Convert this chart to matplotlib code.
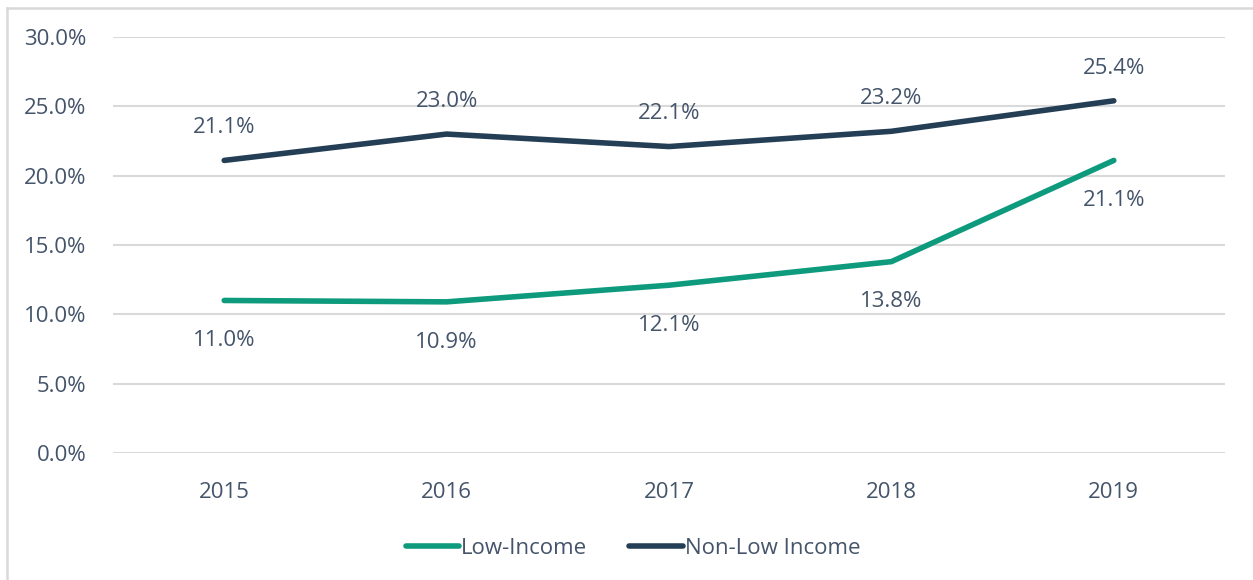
import matplotlib.pyplot as plt
from matplotlib.lines import Line2D

years = ["2015", "2016", "2017", "2018", "2019"]
low_income = [11.0, 10.9, 12.1, 13.8, 21.1]
non_low_income = [21.1, 23.0, 22.1, 23.2, 25.4]

teal = "#0E9A7D"
navy = "#243F55"
text_color = "#44546A"
grid_color = "#D9D9D9"

plt.rcParams["font.family"] = ["Open Sans", "DejaVu Sans"]

fig = plt.figure(figsize=(12.53, 5.80), dpi=100)
ax = fig.add_axes([113 / 1253, 1 - 453 / 580, 1112 / 1253, 416 / 580])

# outer chart border, only left and top edges are visible in the crop
fx, fy = 6.5 / 1253, 1 - 7.5 / 580
fig.lines.append(Line2D([fx, fx], [0, fy], transform=fig.transFigure,
                        color=grid_color, linewidth=1.8))
fig.lines.append(Line2D([fx, 1], [fy, fy], transform=fig.transFigure,
                        color=grid_color, linewidth=1.8))

x = list(range(len(years)))
ax.plot(x, low_income, color=teal, linewidth=4, solid_capstyle="round",
        label="Low-Income", zorder=3)
ax.plot(x, non_low_income, color=navy, linewidth=4, solid_capstyle="round",
        label="Non-Low Income", zorder=3)

for i, v in enumerate(low_income):
    ax.annotate(f"{v:.1f}%", (i, v), xytext=(0, -29), textcoords="offset points",
                ha="center", va="center", fontsize=16, color=text_color)
for i, v in enumerate(non_low_income):
    ax.annotate(f"{v:.1f}%", (i, v), xytext=(0, 23.5), textcoords="offset points",
                ha="center", va="center", fontsize=16, color=text_color)

ax.set_xlim(-0.5, 4.5)
ax.set_ylim(0, 30)
ax.set_yticks([0, 5, 10, 15, 20, 25, 30])
ax.set_yticklabels([f"{t:.1f}%" for t in [0, 5, 10, 15, 20, 25, 30]])
ax.set_xticks(x)
ax.set_xticklabels(years)
ax.tick_params(axis="both", length=0, labelsize=16, labelcolor=text_color)
ax.tick_params(axis="y", pad=19)
ax.tick_params(axis="x", pad=21)
ax.grid(axis="y", color=grid_color, linewidth=1.5)
ax.set_axisbelow(True)
for s in ax.spines.values():
    s.set_visible(False)

leg = fig.legend(loc="center", bbox_to_anchor=(633 / 1253, 1 - 548 / 580), ncol=2,
                 frameon=False, fontsize=16, handlelength=2.4, handletextpad=0.1,
                 columnspacing=1.9)
for t in leg.get_texts():
    t.set_color(text_color)

fig.savefig("out.png", dpi=100)
